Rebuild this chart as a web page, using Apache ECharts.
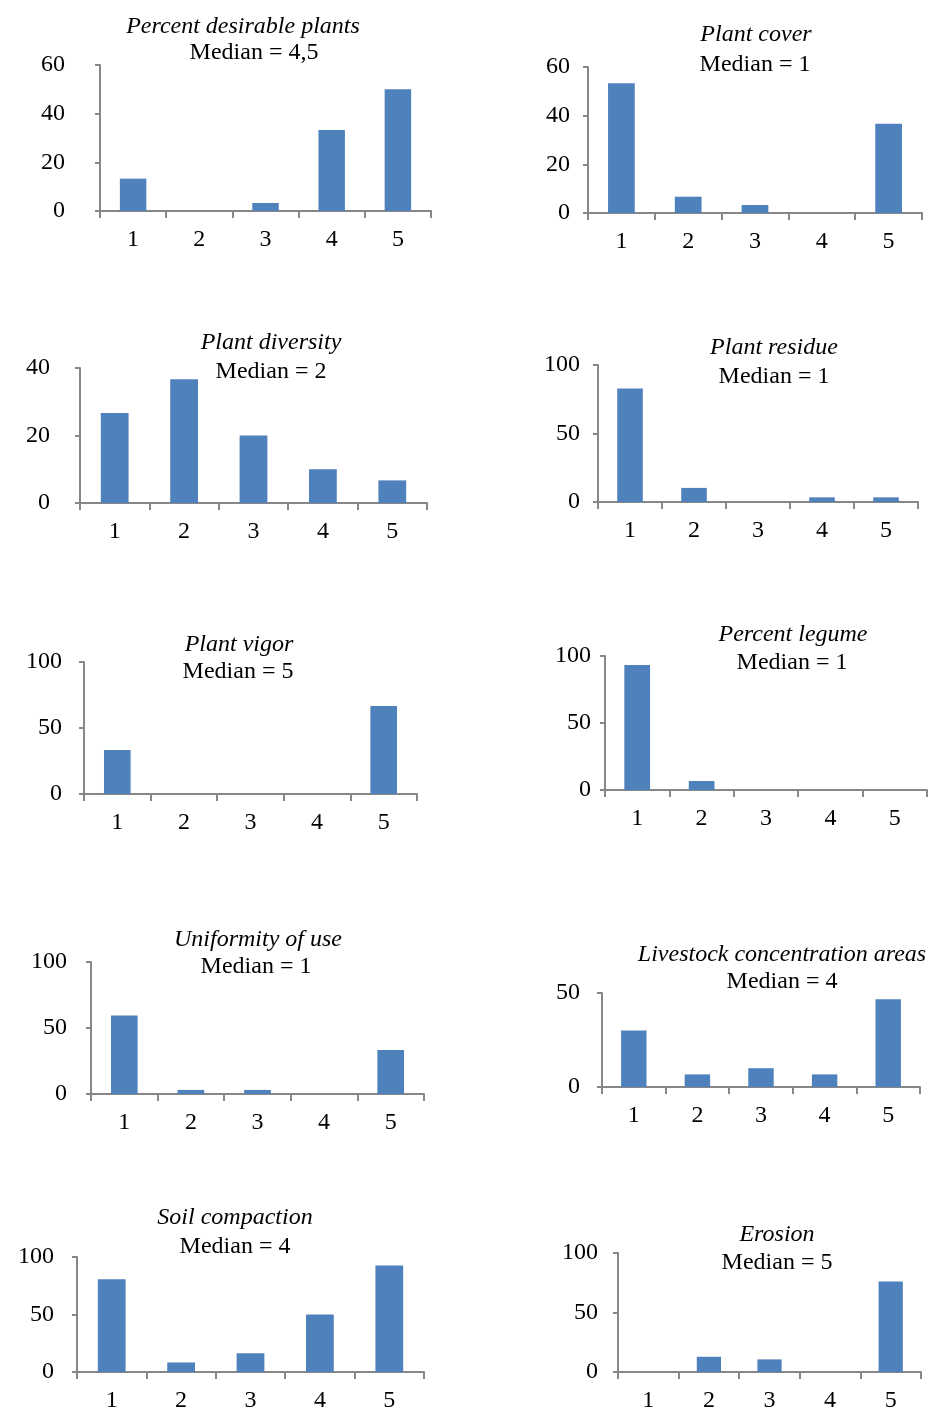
<!DOCTYPE html>
<html>
<head>
<meta charset="utf-8">
<script src="https://cdn.jsdelivr.net/npm/echarts@6/dist/echarts.min.js"></script>
<style>
html,body{margin:0;padding:0;background:#fff;}
#chart{width:930px;height:1413px;}
</style>
</head>
<body>
<div id="chart"></div>
<script>
const categories = ['1','2','3','4','5'];

const titles = ['Percent desirable plants','Plant cover','Plant diversity','Plant residue','Plant vigor','Percent legume','Uniformity of use','Livestock concentration areas','Soil compaction','Erosion'];
const medians = ['Median = 4,5','Median = 1','Median = 2','Median = 1','Median = 5','Median = 1','Median = 1','Median = 4','Median = 4','Median = 5'];

const desirablePlants = [13.3, 0, 3.3, 33.3, 50];
const plantCover = [53.3, 6.7, 3.3, 0, 36.7];
const plantDiversity = [26.7, 36.7, 20, 10, 6.7];
const plantResidue = [82.8, 10.3, 0, 3.4, 3.4];
const plantVigor = [33.3, 0, 0, 0, 66.7];
const percentLegume = [93.3, 6.7, 0, 0, 0];
const uniformityOfUse = [59.4, 3.1, 3.1, 0, 33.3];
const livestockAreas = [30, 6.7, 10, 6.7, 46.7];
const soilCompaction = [80.6, 8.3, 16.3, 50, 92.6];
const erosion = [0, 12.8, 10.6, 0, 76];

const seriesData = [desirablePlants, plantCover, plantDiversity, plantResidue, plantVigor, percentLegume, uniformityOfUse, livestockAreas, soilCompaction, erosion];
const yMax = [60, 60, 40, 100, 100, 100, 100, 50, 100, 100];
const yInterval = [20, 20, 20, 50, 50, 50, 50, 50, 50, 50];

// layout (pixels)
const grids = [
  {left:100, top:65, width:331, height:146},
  {left:588, top:67, width:334, height:146},
  {left:80, top:368, width:347, height:135},
  {left:598, top:365, width:320, height:137},
  {left:84, top:662, width:333, height:132},
  {left:605, top:656, width:322, height:134},
  {left:91, top:962, width:333, height:132},
  {left:602, top:993, width:318, height:94},
  {left:77, top:1257, width:347, height:117},
  {left:618, top:1253, width:303, height:120}
];
const yLabelMargin = [35, 18, 30, 18, 22, 14, 24, 22, 23, 20];
const titlePos = [[243,27],[756,35],[271,343],[774,348],[239,645],[793,635],[258,940],[782,955],[235,1218],[777,1235]];
const medianPos = [[254,53],[755,65],[271,372],[774,377],[238,672],[792,663],[256,967],[782,982],[235,1247],[777,1263]];

const FONT = '"Liberation Serif","Times New Roman",serif';
const AX = '#878787';

const option = {
  animation:false,
  backgroundColor:'#ffffff',
  grid: grids.map(g => Object.assign({containLabel:false}, g)),
  xAxis: grids.map((g,i) => ({
    type:'category', gridIndex:i, data:categories, boundaryGap:true,
    axisLine:{show:true, lineStyle:{color:AX, width:2}},
    axisTick:{show:true, length:7, interval:0, lineStyle:{color:AX, width:2}},
    axisLabel:{color:'#000', fontFamily:FONT, fontSize:24, margin:17, interval:0},
    splitLine:{show:false}
  })),
  yAxis: grids.map((g,i) => ({
    type:'value', gridIndex:i, min:0, max:yMax[i], interval:yInterval[i],
    axisLine:{show:true, lineStyle:{color:AX, width:2}},
    axisTick:{show:true, length:5, lineStyle:{color:AX, width:2}},
    axisLabel:{color:'#000', fontFamily:FONT, fontSize:24, margin:yLabelMargin[i]},
    splitLine:{show:false}
  })),
  series: seriesData.map((d,i) => ({
    type:'bar', xAxisIndex:i, yAxisIndex:i, data:d, barWidth:'40%',
    itemStyle:{color:'#4F81BD'},
    silent:true
  })),
  graphic: titles.map((t,i) => ({
    type:'text', x:titlePos[i][0], y:titlePos[i][1],
    style:{text:t, font:'italic 24px ' + FONT, fill:'#000', align:'center', verticalAlign:'middle'}
  })).concat(medians.map((t,i) => ({
    type:'text', x:medianPos[i][0], y:medianPos[i][1],
    style:{text:t, font:'24px ' + FONT, fill:'#000', align:'center', verticalAlign:'middle'}
  })))
};

const chart = echarts.init(document.getElementById('chart'), null, {renderer:'canvas'});
chart.setOption(option);
</script>
</body>
</html>
